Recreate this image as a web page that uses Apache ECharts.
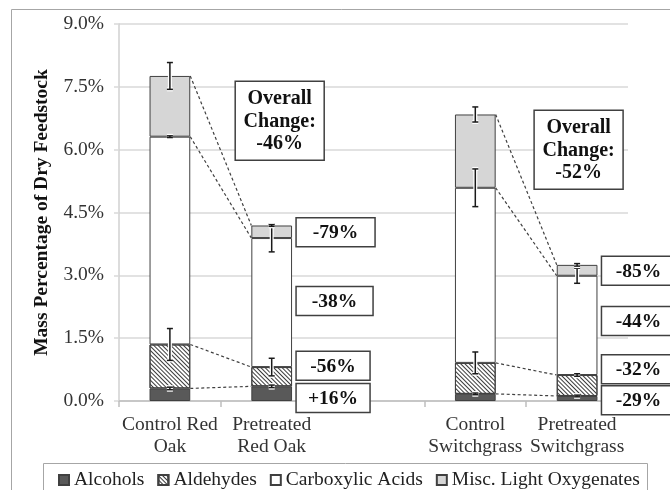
<!DOCTYPE html>
<html>
<head>
<meta charset="utf-8">
<script src="https://cdn.jsdelivr.net/npm/echarts@6/dist/echarts.min.js"></script>
<style>
  html, body { margin: 0; padding: 0; background: #fff; }
  #chart { width: 670px; height: 490px; }
</style>
</head>
<body>
<div id="chart"></div>
<script>
// Light oxygenate yields, mass % of dry feedstock
const categories = ['Control Red\nOak', 'Pretreated\nRed Oak', '', 'Control\nSwitchgrass', 'Pretreated\nSwitchgrass'];
const alcohols            = [0.30, 0.35, null, 0.17, 0.12];
const aldehydes           = [1.05, 0.46, null, 0.74, 0.50];
const carboxylicAcids     = [4.96, 3.08, null, 4.18, 2.37];
const miscLightOxygenates = [1.45, 0.30, null, 1.75, 0.26];

// standard deviations (same units)
const alcoholsErr   = [0.03, 0.03, null, 0.02, 0.02];
const aldehydesErr  = [0.38, 0.21, null, 0.26, 0.03];
const carboxylicErr = [0.02, 0.33, null, 0.45, 0.18];
const miscErr       = [0.32, 0.02, null, 0.18, 0.03];

// percent change labels, bottom segment first
const redOakChange      = ['+16%', '-56%', '-38%', '-79%'];
const switchgrassChange = ['-29%', '-32%', '-44%', '-85%'];
const overallChange     = ['-46%', '-52%'];

const yTicks = { min: 0, max: 9, interval: 1.5 };

// ---- derived stacks -------------------------------------------------------
const seriesVals = [alcohols, aldehydes, carboxylicAcids, miscLightOxygenates];
const seriesErrs = [alcoholsErr, aldehydesErr, carboxylicErr, miscErr];
const tops = seriesVals.map((_, s) => categories.map((c, i) => {
  if (seriesVals[0][i] == null) return null;
  let t = 0;
  for (let k = 0; k <= s; k++) t += seriesVals[k][i];
  return t;
}));

const errData = [];
seriesErrs.forEach((errs, s) => errs.forEach((e, i) => {
  if (e != null) errData.push([i, tops[s][i], e]);
}));

// dashed connectors between control and pretreated bars
const pairs = [[0, 1], [3, 4]];
const connData = [];
pairs.forEach(([a, b]) => {
  for (let s = 0; s < 4; s++) connData.push([a, b, tops[s][a], tops[s][b]]);
});

// annotation box placement (value-axis centre, box width)
const redOakBoxes = [{ y: 0.07, w: 74 }, { y: 0.84, w: 74 }, { y: 2.39, w: 77 }, { y: 4.03, w: 79 }];
const switchBoxes = [{ y: 0.02, w: 74 }, { y: 0.76, w: 74 }, { y: 1.91, w: 74 }, { y: 3.11, w: 74 }];
const boxData = [];
redOakBoxes.forEach((b, k) => boxData.push([1, b.y, b.w, redOakChange[k]]));
switchBoxes.forEach((b, k) => boxData.push([4, b.y, b.w, switchgrassChange[k]]));
const overallData = [[1, 6.69, 8, overallChange[0]], [4, 6.0, 1.5, overallChange[1]]];

const FONT = '"Liberation Serif", "Times New Roman", serif';
const BAR_FRAC = 0.4;

const chart = echarts.init(document.getElementById('chart'), null, { renderer: 'canvas' });

const barBase = {
  type: 'bar',
  stack: 'total',
  barWidth: '40%',
  z: 2,
  emphasis: { disabled: true }
};

chart.setOption({
  animation: false,
  backgroundColor: '#fff',
  textStyle: { fontFamily: FONT },
  grid: { left: 119, right: 42, top: 24, bottom: 89 },
  graphic: [
    { type: 'rect', silent: true, z: -1, shape: { x: 11.5, y: 9.5, width: 720, height: 600 },
      style: { fill: 'none', stroke: '#a6a6a6', lineWidth: 1 } },
    { type: 'rect', silent: true, z: -1, shape: { x: 43.5, y: 463.5, width: 604, height: 60 },
      style: { fill: '#fff', stroke: '#a6a6a6', lineWidth: 1 } }
  ],
  legend: {
    left: 53,
    top: 465,
    itemWidth: 10,
    itemHeight: 10,
    itemGap: 13,
    icon: 'rect',
    selectedMode: false,
    textStyle: { fontFamily: FONT, fontSize: 19.5, color: '#222' },
    data: ['Alcohols', 'Aldehydes', 'Carboxylic Acids', 'Misc. Light Oxygenates']
  },
  xAxis: {
    type: 'category',
    data: categories,
    axisLine: { lineStyle: { color: '#bfbfbf', width: 1.5 } },
    axisTick: { show: true, interval: 0, length: 6, lineStyle: { color: '#bfbfbf', width: 1.5 } },
    axisLabel: { interval: 0, margin: 13, fontFamily: FONT, fontSize: 19.5, lineHeight: 22, color: '#333' },
    splitLine: { show: false }
  },
  yAxis: {
    type: 'value',
    min: yTicks.min,
    max: yTicks.max,
    interval: yTicks.interval,
    name: 'Mass Percentage of Dry Feedstock',
    nameLocation: 'middle',
    nameGap: 67,
    nameTextStyle: { fontFamily: FONT, fontSize: 19.5, fontWeight: 'bold', color: '#111' },
    axisLine: { show: true, lineStyle: { color: '#d0d0d0', width: 1.5 } },
    axisTick: { show: true, length: 5, lineStyle: { color: '#d9d9d9', width: 1.5 } },
    axisLabel: { margin: 15, fontFamily: FONT, fontSize: 19.5, color: '#333',
      formatter: v => v.toFixed(1) + '%' },
    splitLine: { show: true, lineStyle: { color: '#d9d9d9', width: 1.5 } }
  },
  series: [
    Object.assign({}, barBase, {
      name: 'Alcohols', data: alcohols,
      itemStyle: { color: '#595959', borderColor: '#404040', borderWidth: 1 }
    }),
    Object.assign({}, barBase, {
      name: 'Aldehydes', data: aldehydes,
      itemStyle: {
        color: '#ffffff', borderColor: '#404040', borderWidth: 1,
        decal: { symbol: 'rect', symbolSize: 1, dashArrayX: [1, 0], dashArrayY: [1, 1.3],
                 rotation: Math.PI / 4, color: '#3a3a3a' }
      }
    }),
    Object.assign({}, barBase, {
      name: 'Carboxylic Acids', data: carboxylicAcids,
      itemStyle: { color: '#ffffff', borderColor: '#404040', borderWidth: 1 }
    }),
    Object.assign({}, barBase, {
      name: 'Misc. Light Oxygenates', data: miscLightOxygenates,
      itemStyle: { color: '#d6d6d6', borderColor: '#404040', borderWidth: 1 }
    }),
    {
      // dashed connectors
      type: 'custom', z: 3, silent: true, clip: false,
      encode: { x: [0, 1], y: [2, 3] },
      data: connData,
      renderItem(params, api) {
        const half = api.size([1, 0])[0] * BAR_FRAC / 2;
        const p1 = api.coord([api.value(0), api.value(2)]);
        const p2 = api.coord([api.value(1), api.value(3)]);
        return {
          type: 'line',
          shape: { x1: p1[0] + half, y1: p1[1], x2: p2[0] - half, y2: p2[1] },
          style: { stroke: '#404040', lineWidth: 1.2, lineDash: [3, 2.5] }
        };
      }
    },
    {
      // error bars
      type: 'custom', z: 4, silent: true, clip: false,
      encode: { x: 0, y: 1 },
      data: errData,
      renderItem(params, api) {
        const x = api.coord([api.value(0), 0])[0];
        const hi = api.coord([api.value(0), api.value(1) + api.value(2)])[1];
        const lo = api.coord([api.value(0), api.value(1) - api.value(2)])[1];
        const cw = 3;
        const mk = (stroke, lw) => ({
          type: 'group',
          children: [
            { type: 'line', shape: { x1: x, y1: hi, x2: x, y2: lo }, style: { stroke, lineWidth: lw } },
            { type: 'line', shape: { x1: x - cw, y1: hi, x2: x + cw, y2: hi }, style: { stroke, lineWidth: lw } },
            { type: 'line', shape: { x1: x - cw, y1: lo, x2: x + cw, y2: lo }, style: { stroke, lineWidth: lw } }
          ]
        });
        return { type: 'group', children: [mk('#ffffff', 4), mk('#1a1a1a', 1.5)] };
      }
    },
    {
      // per-group change boxes
      type: 'custom', z: 5, silent: true, clip: false,
      encode: { x: 0, y: 1 },
      data: boxData,
      renderItem(params, api) {
        const item = boxData[params.dataIndex];
        const half = api.size([1, 0])[0] * BAR_FRAC / 2;
        const c = api.coord([item[0], item[1]]);
        const w = item[2], h = 29;
        const x = c[0] + half + 4;
        return {
          type: 'group',
          children: [
            { type: 'rect', shape: { x: x, y: c[1] - h / 2, width: w, height: h },
              style: { fill: '#fff', stroke: '#404040', lineWidth: 1.5 } },
            { type: 'text', x: x + w / 2, y: c[1] + 1,
              style: { text: item[3], font: 'bold 19.5px ' + FONT, fill: '#111',
                       textAlign: 'center', textVerticalAlign: 'middle' } }
          ]
        };
      }
    },
    {
      // overall change boxes
      type: 'custom', z: 5, silent: true, clip: false,
      encode: { x: 0, y: 1 },
      data: overallData,
      renderItem(params, api) {
        const item = overallData[params.dataIndex];
        const c = api.coord([item[0], item[1]]);
        const cx = c[0] + item[2];
        const w = 89, h = 79;
        return {
          type: 'group',
          children: [
            { type: 'rect', shape: { x: cx - w / 2, y: c[1] - h / 2, width: w, height: h },
              style: { fill: '#fff', stroke: '#404040', lineWidth: 1.5 } },
            { type: 'text', x: cx, y: c[1] + 1,
              style: { text: 'Overall\nChange:\n' + item[3], font: 'bold 20px ' + FONT,
                       lineHeight: 22.5, fill: '#111',
                       textAlign: 'center', textVerticalAlign: 'middle' } }
          ]
        };
      }
    }
  ]
});
</script>
</body>
</html>
